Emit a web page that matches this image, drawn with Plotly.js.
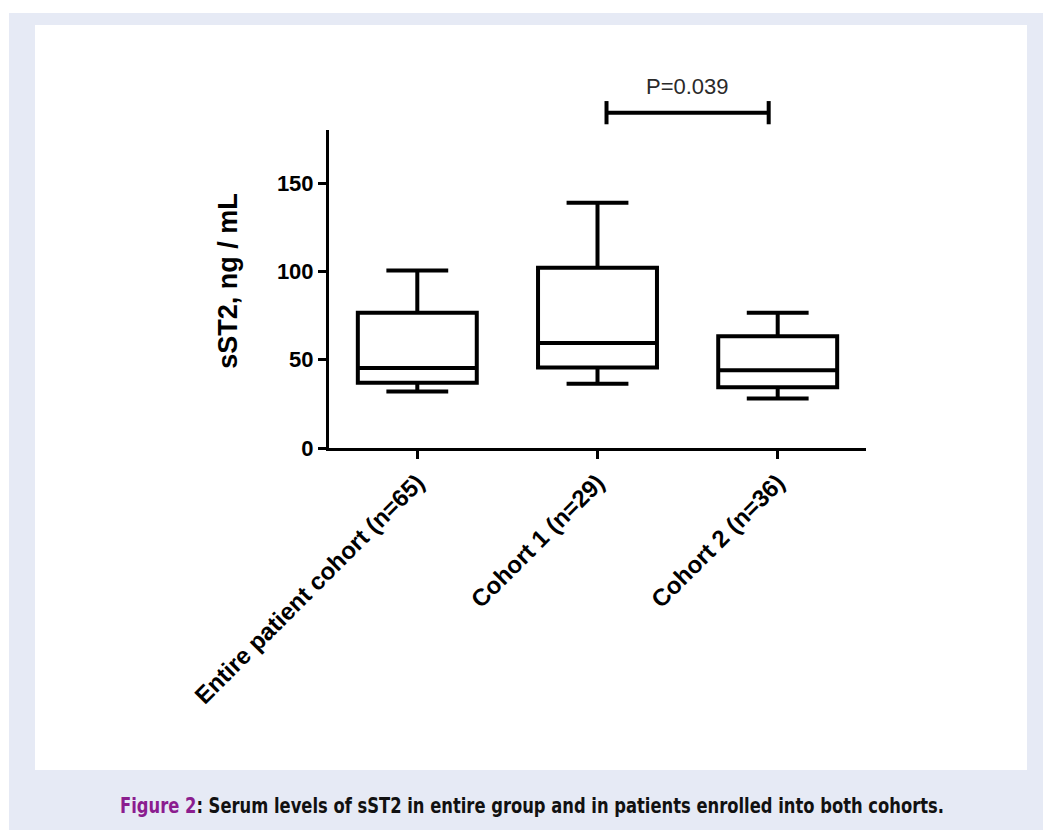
<!DOCTYPE html>
<html>
<head>
<meta charset="utf-8">
<script src="https://cdn.plot.ly/plotly-3.0.1.min.js"></script>
<style>
  html, body { margin: 0; padding: 0; background: #ffffff; }
  #frame { position: absolute; left: 9px; top: 13px; width: 1034px; height: 817px; background: #e6eaf5; }
  #panel { position: absolute; left: 35px; top: 25px; width: 992px; height: 745px; background: #ffffff; }
  #chart { position: absolute; left: 0; top: 0; width: 1043px; height: 830px; }
  #caption { position: absolute; left: 120px; top: 794px; white-space: nowrap; transform-origin: 0 0;
             font-family: 'Liberation Sans Narrow', 'DejaVu Sans Condensed', 'Liberation Sans', Arial, sans-serif;
             font-weight: bold; font-size: 20.5px; color: #111; }
  #caption .fig { color: #8b1d8f; }
</style>
</head>
<body>
<div id="frame"></div>
<div id="panel"></div>
<div id="chart"></div>
<div id="caption"><span class="fig">Figure 2</span>: Serum levels of sST2 in entire group and in patients enrolled into both cohorts.</div>
<script>
const categories = ['Entire patient cohort (n=65)', 'Cohort 1 (n=29)', 'Cohort 2 (n=36)'];
const lowerWhisker = [32, 36.3, 28];
const q1 = [37, 45.5, 34.4];
const median = [45.3, 59.4, 44];
const q3 = [76.5, 102, 63.2];
const upperWhisker = [100.5, 138.8, 76.5];
const yTicks = [0, 50, 100, 150];
const yTitle = 'sST2, ng / mL';
const pText = 'P=0.039';
const pPair = [1, 2];

const FONT = 'Liberation Sans, Arial, sans-serif';

const trace = {
  type: 'box',
  x: categories,
  q1: q1,
  median: median,
  q3: q3,
  lowerfence: lowerWhisker,
  upperfence: upperWhisker,
  boxpoints: false,
  line: { color: '#000000', width: 4 },
  fillcolor: 'rgba(255,255,255,0)',
  width: 0.66,
  whiskerwidth: 0.52,
  hoverinfo: 'skip',
  showlegend: false
};

const bx0 = pPair[0] + 0.05, bx1 = pPair[1] - 0.05;
const layout = {
  width: 1043, height: 830,
  margin: { l: 329, r: 177, t: 130, b: 382 },
  paper_bgcolor: 'rgba(0,0,0,0)',
  plot_bgcolor: 'rgba(0,0,0,0)',
  showlegend: false,
  xaxis: {
    type: 'category',
    categoryorder: 'array', categoryarray: categories,
    range: [-0.49, 2.49],
    showline: true, linecolor: '#000', linewidth: 3,
    ticks: 'outside', ticklen: 8, tickwidth: 3, tickcolor: '#000',
    tickangle: -45,
    tickfont: { family: FONT, size: 24, weight: 700, color: '#000' },
    showgrid: false, zeroline: false, fixedrange: true
  },
  yaxis: {
    range: [0, 180],
    tickvals: yTicks,
    showline: true, linecolor: '#000', linewidth: 3,
    ticks: 'outside', ticklen: 8, tickwidth: 3, tickcolor: '#000',
    tickfont: { family: FONT, size: 22, weight: 700, color: '#000' },
    showgrid: false, zeroline: false, fixedrange: true
  },
  shapes: [
    { type: 'line', xref: 'x', yref: 'paper', x0: bx0, x1: bx1, y0: 1.0545, y1: 1.0545, line: { color: '#000', width: 4 } },
    { type: 'line', xref: 'x', yref: 'paper', x0: bx0, x1: bx0, y0: 1.018, y1: 1.091, line: { color: '#000', width: 4 } },
    { type: 'line', xref: 'x', yref: 'paper', x0: bx1, x1: bx1, y0: 1.018, y1: 1.091, line: { color: '#000', width: 4 } }
  ],
  annotations: [
    { xref: 'x', yref: 'paper', x: (pPair[0] + pPair[1]) / 2, y: 1.136, text: pText, showarrow: false,
      font: { family: FONT, size: 22, color: '#2a2a2a' }, xanchor: 'center', yanchor: 'middle' },
    { xref: 'paper', yref: 'paper', x: -0.188, y: 0.526, text: yTitle, showarrow: false, textangle: -90,
      font: { family: FONT, size: 27, weight: 700, color: '#000' }, xanchor: 'center', yanchor: 'middle' }
  ]
};

Plotly.newPlot('chart', [trace], layout, { displayModeBar: false, staticPlot: true }).then(function () {
  const cap = document.getElementById('caption');
  const w = cap.getBoundingClientRect().width;
  const target = 824;
  cap.style.transform = 'scaleX(' + (target / w) + ')';
});
</script>
</body>
</html>
